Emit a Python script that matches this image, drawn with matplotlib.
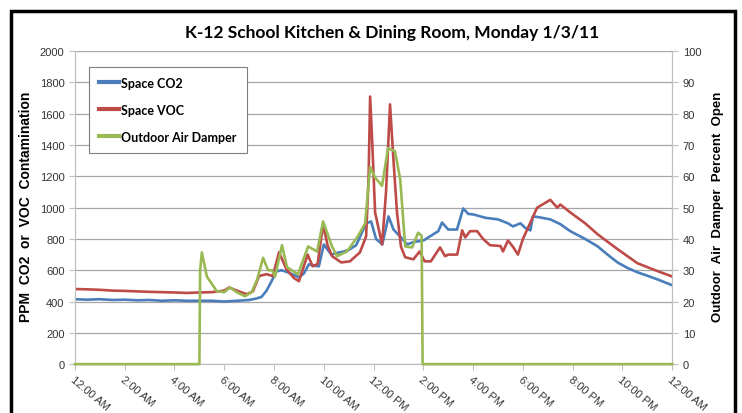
import matplotlib.pyplot as plt
from matplotlib.lines import Line2D
from matplotlib.patches import Rectangle

# time of day in hours (0 = midnight)
co2_t = [0, 0.5, 1, 1.5, 2, 2.5, 3, 3.5, 4, 4.5, 5, 5.5, 6, 6.5, 7, 7.3, 7.5, 7.7, 7.9,
         8.1, 8.3, 8.5, 8.8, 9.0, 9.2, 9.4, 9.6, 9.8, 10.0, 10.3, 10.5, 10.8, 11.0, 11.3,
         11.5, 11.7, 11.9, 12.1, 12.35, 12.6, 12.8, 13.1, 13.35, 13.6, 14.0, 14.3, 14.6,
         14.75, 15.0, 15.35, 15.6, 15.8, 16.0, 16.5, 17.0, 17.4, 17.6, 17.9, 18.1, 18.3,
         18.4, 18.6, 19.1, 19.5, 19.9, 20.5, 21.0, 21.4, 21.8, 22.2, 22.6, 23.0, 23.4, 24.0]
co2_ppm = [415, 412, 415, 410, 412, 408, 410, 405, 408, 405, 405, 405, 400, 405, 410, 420,
           430, 470, 530, 593, 600, 590, 570, 555, 580, 638, 630, 625, 765, 700, 710, 720,
           730, 760, 830, 900, 912, 800, 765, 944, 860, 810, 765, 780, 790, 820, 850, 905,
           860, 860, 995, 960, 957, 935, 925, 900, 880, 900, 870, 855, 944, 940, 925, 895,
           850, 800, 753, 700, 650, 615, 587, 565, 542, 504]

voc_t = [0, 0.5, 1, 1.5, 2, 2.5, 3, 3.5, 4, 4.5, 5, 5.5, 6, 6.2, 6.5, 6.9, 7.15, 7.4, 7.7,
         7.95, 8.2, 8.5, 8.8, 9.0, 9.35, 9.55, 9.75, 9.97, 10.15, 10.33, 10.7, 11.05, 11.45,
         11.7, 11.8, 11.86, 11.95, 12.06, 12.34, 12.5, 12.66, 12.8, 12.94, 13.1, 13.27, 13.6,
         13.85, 14.05, 14.3, 14.67, 14.87, 15.0, 15.36, 15.56, 15.68, 15.88, 16.16, 16.4,
         16.68, 17.1, 17.2, 17.4, 17.6, 17.8, 18.0, 18.3, 18.57, 19.1, 19.38, 19.5, 19.9,
         20.5, 21.0, 21.8, 22.6, 23.4, 24.0]
voc_ppm = [480, 478, 475, 470, 468, 465, 462, 460, 458, 455, 458, 460, 470, 490, 470, 447,
           465, 563, 575, 563, 715, 606, 550, 530, 700, 625, 640, 893, 760, 690, 650, 657,
           714, 817, 1200, 1710, 1400, 970, 765, 1100, 1660, 1300, 970, 750, 683, 670, 720,
           657, 657, 746, 690, 700, 700, 855, 810, 850, 850, 800, 760, 755, 720, 790, 750,
           700, 800, 905, 1000, 1050, 1000, 1020, 970, 900, 830, 735, 645, 595, 560]

damper_t = [0, 5.0, 5.03, 5.1, 5.3, 5.7, 6.0, 6.23, 6.5, 6.83, 7.1, 7.32, 7.56, 7.76, 7.92,
            8.04, 8.32, 8.52, 8.96, 9.37, 9.73, 9.97, 10.33, 10.53, 10.93, 11.38, 11.66,
            11.86, 12.06, 12.34, 12.58, 12.86, 13.07, 13.27, 13.55, 13.79, 13.93, 13.97, 24.0]
damper_pct = [0, 0, 30, 35.7, 28, 23.3, 23, 24.5, 23, 21.7, 23, 27, 34, 30, 30, 28, 38, 31,
              28.7, 37.6, 36, 45.6, 37.6, 34.5, 36, 41, 45, 63, 59.6, 57, 69, 68, 59, 37.6,
              37.3, 42, 41, 0, 0]

hour_ticks = list(range(0, 25, 2))
hour_labels = ["12:00 AM", "2:00 AM", "4:00 AM", "6:00 AM", "8:00 AM", "10:00 AM",
               "12:00 PM", "2:00 PM", "4:00 PM", "6:00 PM", "8:00 PM", "10:00 PM", "12:00 AM"]

blue = "#4a7ebb"
red = "#be4b48"
green = "#98b954"
grid_c = "#a6a6a6"
axis_c = "#c0c0c0"

plt.rcParams["font.family"] = ["Liberation Sans", "DejaVu Sans"]

fig = plt.figure(figsize=(7.42, 4.14), dpi=100)
ax = fig.add_axes([0.101, 0.118, 0.805, 0.756])
ax2 = ax.twinx()

ax.plot(co2_t, co2_ppm, color=blue, lw=1.9, zorder=3)
ax.plot(voc_t, voc_ppm, color=red, lw=1.9, zorder=4)
ax2.plot(damper_t, damper_pct, color=green, lw=1.9, zorder=5, clip_on=False)

ax.set_xlim(0, 24)
ax.set_ylim(0, 2000)
ax2.set_ylim(0, 100)
ax.set_yticks(range(0, 2001, 200))
ax2.set_yticks(range(0, 101, 10))
ax.set_xticks(hour_ticks)
ax.set_xticklabels(hour_labels, rotation=-40, ha="left", va="top",
                   rotation_mode="anchor", fontsize=8, color="#222222")

ax.yaxis.grid(True, color=grid_c, lw=0.9)
ax.set_axisbelow(True)

for a in (ax, ax2):
    a.spines["top"].set_visible(False)
    a.spines["left"].set_color(axis_c)
    a.spines["right"].set_color(axis_c)
    a.spines["bottom"].set_color(axis_c)
    a.tick_params(colors="#333333", labelsize=8, length=4, width=0.8)
    a.tick_params(axis="both", color=axis_c)
ax.tick_params(axis="x", pad=3, labelsize=8)

handles = [Line2D([], [], color=blue, lw=3),
           Line2D([], [], color=red, lw=3),
           Line2D([], [], color=green, lw=3)]
leg = ax.legend(handles, ["Space CO2", "Space VOC", "Outdoor Air Damper"],
                loc="upper left", bbox_to_anchor=(0.023, 0.95), borderaxespad=0,
                fancybox=False, edgecolor="#7f7f7f", framealpha=1, labelspacing=1.2,
                handlelength=1.6, handletextpad=0.2, borderpad=0.8,
                prop={"family": "Lato", "weight": "bold", "size": 9})
leg.get_frame().set_linewidth(0.8)
leg.set_zorder(10)

fig.text(0.528, 0.92, "K-12 School Kitchen & Dining Room, Monday 1/3/11",
         ha="center", va="center", family="Lato", weight="bold", fontsize=12.5)
fig.text(0.035, 0.5, "PPM  CO2  or  VOC  Contamination", rotation=90,
         ha="center", va="center", weight="bold", fontsize=10)
fig.text(0.967, 0.5, "Outdoor  Air  Damper  Percent  Open", rotation=90,
         ha="center", va="center", weight="bold", fontsize=9.5)

# frame drawn around the whole figure
fig.patches.append(Rectangle((0.0148, -0.05), 0.976, 1.021, transform=fig.transFigure,
                             fill=False, edgecolor="black", lw=2.5))

fig.savefig("out.png", dpi=100)
